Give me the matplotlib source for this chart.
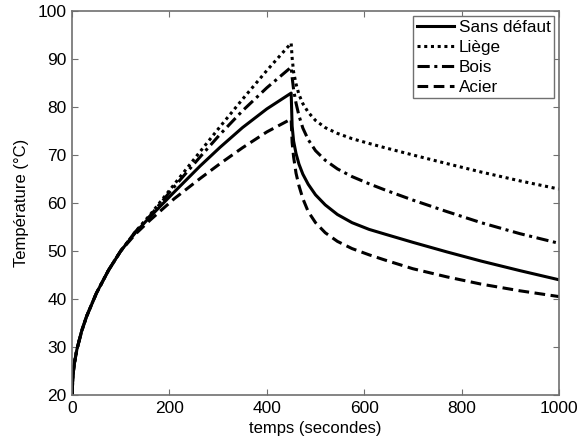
import numpy as np
import matplotlib
matplotlib.use('Agg')
import matplotlib.pyplot as plt

plt.rcParams['font.family'] = ['Liberation Sans', 'DejaVu Sans']

# temps (s)
t = [0, 2, 5, 10, 20, 30, 50, 75, 100, 130, 160, 210, 263, 304, 350, 400, 450,
     452, 455, 460, 466, 474, 485, 500, 520, 545, 575, 610, 643, 700, 770, 840, 920, 1000]

# heating part shared by every case up to ~100 s
common = [20, 24.2, 26.7, 29.5, 33.4, 36.4, 41.2, 46.0, 50.0]

sans_defaut = common + [53.8, 57.1, 62.3, 67.7, 71.6, 75.7, 79.6, 82.9,
                        76.0, 72.9, 70.3, 68.1, 66.0, 63.9, 61.7, 59.6, 57.6, 55.9, 54.5, 53.5,
                        51.8, 49.8, 47.9, 45.9, 44.0]
liege = common + [54.0, 57.5, 63.9, 70.7, 75.9, 81.6, 87.6, 93.3,
                  90.2, 87.3, 84.8, 82.6, 80.7, 78.9, 77.2, 75.7, 74.5, 73.4, 72.4, 71.5,
                  70.0, 68.2, 66.45, 64.6, 62.9]
bois = common + [54.0, 57.3, 63.4, 69.6, 74.3, 79.2, 84.0, 88.3,
                 86.2, 83.6, 80.8, 78.2, 75.6, 73.2, 70.9, 68.9, 67.1, 65.5, 64.0, 62.7,
                 60.6, 58.2, 55.9, 53.6, 51.6]
acier = common + [53.5, 56.4, 60.9, 65.1, 68.2, 71.5, 74.8, 77.5,
                  72.6, 69.6, 66.2, 63.6, 60.9, 58.2, 55.9, 53.8, 52.0, 50.5, 49.2, 48.1,
                  46.3, 44.6, 43.1, 41.7, 40.5]

fig = plt.figure(figsize=(5.87, 4.43), dpi=100)
ax = fig.add_axes([0.1227, 0.1084, 0.8296, 0.8668])

ax.plot(t, sans_defaut, color='k', lw=2.2, ls='-', label='Sans défaut')
ax.plot(t, liege, color='k', lw=2.2, ls=(0, (1, 1.2)), label='Liège')
ax.plot(t, bois, color='k', lw=2.2, ls=(0, (4, 1.5, 1, 1.5)), label='Bois')
ax.plot(t, acier, color='k', lw=2.2, ls=(0, (3.5, 1.8)), label='Acier')

ax.set_xlim(0, 1000)
ax.set_ylim(20, 100)
ax.set_xticks(np.arange(0, 1001, 200))
ax.set_yticks(np.arange(20, 101, 10))
ax.tick_params(direction='in', top=True, right=True, labelsize=12.5, length=4,
               color='#707070', pad=4)
for s in ax.spines.values():
    s.set_color('#707070')
    s.set_linewidth(1.2)

ax.set_xlabel('temps (secondes)', fontsize=12, labelpad=4)
ax.set_ylabel('Température (°C)', fontsize=12, labelpad=6)

leg = ax.legend(loc='upper right', fontsize=12.3, fancybox=False, handlelength=2.2,
                handletextpad=0.25, borderpad=0.2, labelspacing=0.3,
                borderaxespad=0.3, framealpha=1)
leg.get_frame().set_edgecolor('#707070')
leg.get_frame().set_linewidth(1.0)

fig.savefig('out.png', dpi=100)
